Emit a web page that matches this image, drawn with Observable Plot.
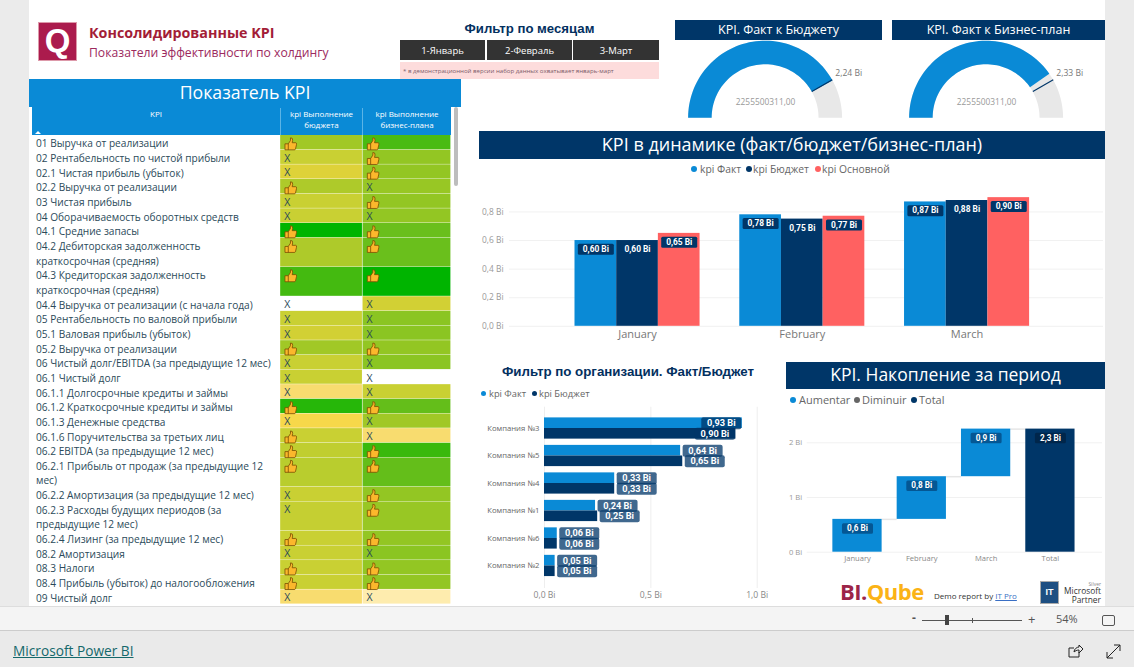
<!DOCTYPE html>
<html lang="ru"><head><meta charset="utf-8">
<script src="https://cdn.jsdelivr.net/npm/d3@7"></script>
<script src="https://cdn.jsdelivr.net/npm/@observablehq/plot@0.6"></script>
<style>
html,body{margin:0;padding:0;width:1134px;height:667px;overflow:hidden;background:#ebebeb;font-family:"Open Sans",sans-serif}
.abs{position:absolute}
.hdr{position:absolute;color:#fff;display:flex;align-items:center;justify-content:center;white-space:nowrap;box-sizing:border-box;padding-bottom:3px}
.navy{background:#003668}.blue{background:#0a8ad6}
.btn{position:absolute;top:40px;height:20px;background:#333;color:#fff;font-size:9.5px;display:flex;align-items:center;justify-content:center}
.leg{position:absolute;font-size:10.3px;color:#666;white-space:nowrap;line-height:14px}
.leg i{position:absolute;width:6px;height:6px;border-radius:50%;top:4px}
.plot{position:absolute}
.plot svg{display:block;max-width:none;overflow:visible}
</style></head><body>
<div class="abs" style="left:29px;top:0;width:1076px;height:606px;background:#fff"></div>
<div class="abs" style="left:0;top:606px;width:1134px;height:24px;background:#f4f4f4;border-top:1px solid #ddd;box-sizing:border-box"></div>
<div class="abs" style="left:0;top:630px;width:1134px;height:37px;background:#eaeaea;border-top:1px solid #ccc;box-sizing:border-box"></div>

<div class="abs" style="left:38px;top:22px;width:37px;height:37px;background:#ab1b4d;border:1px solid #d9a;color:#fff;font:bold 33px/36px 'Liberation Sans';text-align:center">Q</div>
<div class="abs" style="left:89px;top:24px;font:bold 14.3px/18px 'Open Sans';color:#a31d37;white-space:nowrap">Консолидированные KPI</div>
<div class="abs" style="left:89px;top:44px;font:12.2px/18px 'Open Sans';color:#9c2a5e;white-space:nowrap">Показатели эффективности по холдингу</div>

<div class="abs" style="left:400px;top:21px;width:259px;text-align:center;font:bold 13.2px/16px 'Liberation Sans';color:#03305f">Фильтр по месяцам</div>
<div class="btn" style="left:400px;width:85px">1-Январь</div>
<div class="btn" style="left:487px;width:85px">2-Февраль</div>
<div class="btn" style="left:573px;width:86px">3-Март</div>
<div class="abs" style="left:400px;top:62px;width:259px;height:17px;background:#fddcdc;color:#7a5a68;font:6.1px/18px 'Open Sans';white-space:nowrap;text-indent:3px">* в демонстрационной версии набор данных охватывает январь-март</div>

<div class="hdr blue" style="left:29px;top:79px;width:432px;height:28px;font-size:17.7px">Показатель KPI</div>
<div class="abs blue" style="left:32px;top:107px;width:419px;height:28px"></div>
<div class="abs" style="left:32px;top:108px;width:248px;text-align:center;color:#fff;font:8px/12px 'Open Sans'">KPI</div>
<div class="abs" style="left:280px;top:108px;width:82px;text-align:center;color:#fff;font:8px/11px 'Open Sans';border-left:1px solid #5bb4e6;box-sizing:border-box;height:27px">kpi Выполнение бюджета</div>
<div class="abs" style="left:362px;top:108px;width:89px;text-align:center;color:#fff;font:8px/11px 'Open Sans';border-left:1px solid #5bb4e6;box-sizing:border-box;height:27px">kpi Выполнение бизнес-плана</div>
<div class="abs" style="left:35px;top:131px;width:0;height:0;border-left:3px solid transparent;border-right:3px solid transparent;border-bottom:3px solid #fff"></div>
<div class="abs" style="left:454px;top:107px;width:4px;height:79px;background:#bdbdbd;border-radius:2px"></div>

<div class="hdr navy" style="left:675px;top:20px;width:207px;height:20px;font-size:12.5px;padding-bottom:2px">KPI. Факт к Бюджету</div>
<div class="hdr navy" style="left:892px;top:20px;width:213px;height:20px;font-size:12.5px;padding-bottom:2px">KPI. Факт к Бизнес-план</div>
<div class="hdr navy" style="left:479px;top:131px;width:626px;height:28px;font-size:18px">KPI в динамике (факт/бюджет/бизнес-план)</div>

<div class="leg" style="left:691px;top:162px"><i style="left:0;background:#0a8ad6"></i><span style="margin-left:9px">kpi Факт</span></div>
<div class="leg" style="left:746px;top:162px"><i style="left:0;background:#003668"></i><span style="margin-left:7px">kpi Бюджет</span></div>
<div class="leg" style="left:815px;top:162px"><i style="left:0;background:#ff6161"></i><span style="margin-left:7px">kpi Основной</span></div>

<div class="abs" style="left:480px;top:364px;width:296px;text-align:center;font:bold 13.3px/16px 'Liberation Sans';color:#03305f">Фильтр по организации. Факт/Бюджет</div>
<div class="leg" style="left:481px;top:387px;font-size:9.3px"><i style="left:0;background:#0a8ad6;width:5px;height:5px"></i><span style="margin-left:8px">kpi Факт</span></div>
<div class="leg" style="left:532px;top:387px;font-size:9.3px"><i style="left:0;background:#003668;width:5px;height:5px"></i><span style="margin-left:7px">kpi Бюджет</span></div>

<div class="hdr navy" style="left:786px;top:362px;width:319px;height:27px;font-size:17.5px">KPI. Накопление за период</div>
<div class="leg" style="left:790px;top:393px;font-size:11px"><i style="left:0;background:#0a8ad6"></i><span style="margin-left:9px">Aumentar</span></div>
<div class="leg" style="left:854px;top:393px;font-size:11px"><i style="left:0;background:#666"></i><span style="margin-left:8px">Diminuir</span></div>
<div class="leg" style="left:911px;top:393px;font-size:11px"><i style="left:0;background:#003668"></i><span style="margin-left:8px">Total</span></div>

<div class="abs" style="left:840px;top:577px;font:bold 22px/28px 'Open Sans';letter-spacing:-.5px;white-space:nowrap"><span style="color:#9c2548">BI.</span><span style="color:#fbb316">Qube</span></div>
<div class="abs" style="left:934px;top:590px;font:8px/12px 'Open Sans';color:#333;white-space:nowrap">Demo report by <span style="color:#3a6fc4;text-decoration:underline">IT Pro</span></div>
<div class="abs" style="left:1040px;top:581px;width:19px;height:23px;background:#1e4f82;border:1px solid #aaa;box-sizing:border-box;color:#fff;font:bold 9px/21px 'Liberation Sans';text-align:center">IT</div>
<div class="abs" style="left:1062px;top:581px;width:39px;text-align:right;font:5px/6px 'Open Sans';color:#888">Silver</div>
<div class="abs" style="left:1056px;top:586px;width:45px;text-align:right;font:8.4px/9px 'Open Sans';color:#333">Microsoft<br>Partner</div>

<div class="abs" style="left:912px;top:611px;font:bold 12px/14px 'Open Sans';color:#555">-</div>
<div class="abs" style="left:922px;top:620px;width:100px;height:1px;background:#555"></div>
<div class="abs" style="left:945px;top:615px;width:4px;height:10px;background:#444"></div>
<div class="abs" style="left:972px;top:618px;width:1px;height:5px;background:#555"></div>
<div class="abs" style="left:1028px;top:612px;font:13px/14px 'Open Sans';color:#555">+</div>
<div class="abs" style="left:1056px;top:612px;font:11px/14px 'Open Sans';color:#555">54%</div>
<div class="abs" style="left:1102px;top:615px;width:11px;height:9px;border:1px solid #555;border-radius:2px"></div>
<div class="abs" style="left:13px;top:641px;font:13.7px/20px 'Open Sans';color:#14686b;text-decoration:underline;white-space:nowrap">Microsoft Power BI</div>
<svg class="abs" style="left:1066px;top:642px" width="60" height="18" fill="none" stroke="#222" stroke-width="1">
<path d="M3 6h5M3 6v9h10v-5M8 10c0-3 3-5 5-5V3l4 4-4 4V8c-2 0-4 1-5 2z"/>
<path d="M41 16L54 3M48 3h6v6M41 10v6h6"/></svg>

<div id="table" class="plot" style="left:32px;top:135px"></div>
<div id="g1" class="plot" style="left:665.4px;top:32.6px"></div>
<div id="g2" class="plot" style="left:885.9px;top:32.6px"></div>
<div id="main" class="plot" style="left:470px;top:189.5px"></div>
<div id="hbar" class="plot" style="left:470px;top:406px"></div>
<div id="wf" class="plot" style="left:780px;top:420px"></div>

<script>
// ---------- data ----------
const kpiLabels = ["01 Выручка от реализации","02 Рентабельность по чистой прибыли","02.1 Чистая прибыль (убыток)","02.2 Выручка от реализации","03 Чистая прибыль","04 Оборачиваемость оборотных средств","04.1 Средние запасы","04.2 Дебиторская задолженность\nкраткосрочная (средняя)","04.3 Кредиторская задолженность\nкраткосрочная (средняя)","04.4 Выручка от реализации (с начала года)","05 Рентабельность по валовой прибыли","05.1 Валовая прибыль (убыток)","05.2 Выручка от реализации","06 Чистый долг/EBITDA (за предыдущие 12 мес)","06.1 Чистый долг","06.1.1 Долгосрочные кредиты и займы","06.1.2 Краткосрочные кредиты и займы","06.1.3 Денежные средства","06.1.6 Поручительства за третьих лиц","06.2 EBITDA (за предыдущие 12 мес)","06.2.1 Прибыль от продаж (за предыдущие 12\nмес)","06.2.2 Амортизация (за предыдущие 12 мес)","06.2.3 Расходы будущих периодов (за\nпредыдущие 12 мес)","06.2.4 Лизинг (за предыдущие 12 мес)","08.2 Амортизация","08.3 Налоги","08.4 Прибыль (убыток) до налогообложения","09 Чистый долг"];
const budgetScore = [.55,.38,.28,.5,.38,.38,1,.5,.82,null,.38,.33,.55,.38,.38,.12,.9,.2,.38,.42,.45,.38,.4,.38,.38,.38,.38,.12];
const planScore   = [.8,.6,.6,.58,.6,.6,.7,.7,1,.33,.62,.62,.6,.62,null,.38,.72,.55,.12,.85,.72,.6,.58,.6,.62,.6,.6,0];
const budgetOk = [1,0,0,1,0,0,1,1,1,0,0,0,1,0,0,0,1,0,1,1,1,0,0,1,0,1,1,0];
const planOk   = [1,1,1,0,1,0,1,1,1,0,0,0,1,0,0,0,1,0,0,1,1,1,1,1,0,1,1,0];

const months = ["January","February","March"];
const factByMonth = [.60,.78,.87];
const budgetByMonth = [.60,.75,.88];
const planByMonth = [.65,.77,.90];

const companies = ["Компания №3","Компания №5","Компания №4","Компания №1","Компания №6","Компания №2"];
const companyFact = [.93,.64,.33,.24,.06,.05];
const companyBudget = [.90,.65,.33,.25,.06,.05];

const wfCategories = ["January","February","March","Total"];
const wfValues = [.6,.78,.87];
const wfLabels = ["0,6 Bi","0,8 Bi","0,9 Bi","2,3 Bi"];

const gaugeFact = 2255500311;
const gaugeTargets = [2240000000, 2330000000];
const gaugeLabels = ["2,24 Bi","2,33 Bi"];
const gaugeCenterText = "2255500311,00";

// ---------- helpers ----------
const BLUE="#0a8ad6", NAVY="#003668", RED="#ff6161";
const font="'Open Sans',sans-serif";
const bi=(v,d)=>v.toFixed(d).replace(".",",")+" Bi";
function put(id,chart){document.getElementById(id).appendChild(chart);}
function pill(w,h,r=1.5){return {draw(c){const x=-w/2,y=-h/2;
  c.moveTo(x+r,y);c.lineTo(x+w-r,y);c.arcTo(x+w,y,x+w,y+r,r);c.lineTo(x+w,y+h-r);c.arcTo(x+w,y+h,x+w-r,y+h,r);
  c.lineTo(x+r,y+h);c.arcTo(x,y+h,x,y+h-r,r);c.lineTo(x,y+r);c.arcTo(x,y,x+r,y,r);c.closePath();}};}
const thumb={draw(c){
  c.moveTo(-5.5,0);c.lineTo(-2.2,0);c.lineTo(0,-3.3);c.lineTo(0,-6);c.quadraticCurveTo(2.4,-6.3,2.2,-3.5);c.lineTo(1.7,-1.1);
  c.lineTo(5.3,-1.1);c.quadraticCurveTo(6.4,-1.1,6,.9);c.lineTo(5,5.3);c.quadraticCurveTo(4.7,6,3.8,6);c.lineTo(-5.5,6);c.closePath();
  c.moveTo(-2.2,0);c.lineTo(-2.2,6);}};

// ---------- KPI table ----------
{
  let line=0;
  const rows=kpiLabels.map((label,i)=>{const n=label.split("\n").length;const r={label,top:line,bottom:line+n,b:budgetScore[i],p:planScore[i],bo:budgetOk[i],po:planOk[i]};line+=n;return r;});
  const cells=rows.flatMap(r=>[{col:0,score:r.b,ok:r.bo,top:r.top,bottom:r.bottom},{col:1,score:r.p,ok:r.po,top:r.top,bottom:r.bottom}]);
  const edges=[0,1,2.074];
  const scored=cells.filter(d=>d.score!=null);
  const Ytop=d=>d.top+.5;
  put("table",Plot.plot({
    width:419,height:469,margin:0,
    style:{background:"transparent",fontFamily:font,fontSize:"10.15px"},
    x:{domain:[-3.013,2.074],axis:null},
    y:{domain:[0,line],range:[0,469],axis:null},
    color:{type:"linear",domain:[0,.12,.2,.3,.38,.5,.6,.7,.82,1],
      range:["#feecae","#f8dc6f","#f7d84a","#d8d035","#c9d033","#aeca2a","#93c623","#6abf1c","#44ba10","#00b400"]},
    marks:[
      Plot.rect(scored,{x1:d=>edges[d.col],x2:d=>edges[d.col+1],y1:"top",y2:"bottom",fill:"score",insetBottom:.4,insetRight:.6}),
      Plot.text(rows,{x:-3.013,y:"top",text:"label",dx:3.5,dy:1.5,textAnchor:"start",lineAnchor:"top",lineHeight:1.44,fill:"#2b4a5a"}),
      Plot.text(cells.filter(d=>!d.ok),{x:d=>edges[d.col],y:Ytop,text:()=>"X",dx:6.5,dy:.8,textAnchor:"middle",fill:"#2b4a5a",fontSize:10.5}),
      Plot.dot(cells.filter(d=>d.ok),{x:d=>edges[d.col],y:Ytop,symbol:()=>thumb,dx:9.8,dy:1,fill:"#fbb72c",stroke:"#7a4e00",strokeWidth:.8})
    ]}));
}

// ---------- gauges ----------
function gauge(id,target,label){
  const max=target*1.2, inner=.694;
  const ang=v=>Math.PI*(1-v/max);
  const arc=(a,b)=>d3.range(61).map(k=>{const t=ang(a+(b-a)*k/60);return {t};});
  const ptx=(r)=>d=>r*Math.cos(d.t), pty=(r)=>d=>r*Math.sin(d.t);
  const ring=(a,b,fill)=>Plot.area(arc(a,b),{x1:ptx(1),y1:pty(1),x2:ptx(inner),y2:pty(inner),fill});
  const tt=[{t:ang(target)}];
  put(id,Plot.plot({
    width:200.2,height:84.7,margin:0,
    style:{background:"transparent",fontFamily:font,fontSize:"8.6px"},
    x:{domain:[-1.3,1.3],axis:null},y:{domain:[0,1.1],axis:null},
    marks:[
      ring(0,max,"#e8e8e8"),
      ring(0,gaugeFact,BLUE),
      Plot.link(tt,{x1:ptx(inner),y1:pty(inner),x2:ptx(1),y2:pty(1),stroke:NAVY,strokeWidth:1.2}),
      Plot.text(tt,{x:ptx(1),y:pty(1),text:()=>label,dx:3,dy:-6,textAnchor:"start",fill:"#777"}),
      Plot.text([0],{x:0,y:.21,text:()=>gaugeCenterText,fill:"#999",fontSize:8.4})
    ]}));
}
gauge("g1",gaugeTargets[0],gaugeLabels[0]);
gauge("g2",gaugeTargets[1],gaugeLabels[1]);

// ---------- main grouped bars ----------
{
  const rows=[factByMonth,budgetByMonth,planByMonth].flatMap((vals,s)=>vals.map((v,m)=>({m,s,v})));
  const half=.1265, off=d=>d.m+(d.s-1)*2*half;
  put("main",Plot.plot({
    width:640,height:155,marginTop:0,marginBottom:19.2,marginLeft:39,marginRight:7,
    style:{background:"transparent",fontFamily:font,fontSize:"8.4px"},
    x:{domain:[-.777,2.828],label:null},
    y:{domain:[0,.95],label:null},
    color:{domain:[0,1,2],range:[BLUE,NAVY,RED]},
    marks:[
      Plot.ruleY([0,.2,.4,.6,.8],{stroke:"#f1f1f1"}),
      Plot.axisY({ticks:[0,.2,.4,.6,.8],tickSize:0,tickPadding:6,tickFormat:v=>bi(v,1),color:"#999",fontSize:8.4,label:null}),
      Plot.axisX({ticks:[0,1,2],tickSize:0,tickPadding:4,tickFormat:i=>months[i],color:"#777",fontSize:11,label:null}),
      Plot.rect(rows,{x1:d=>off(d)-half,x2:d=>off(d)+half,y1:0,y2:"v",fill:d=>d.s}),
      Plot.dot(rows,{x:off,y:"v",symbol:()=>pill(36,11),dy:8.8,fill:NAVY}),
      Plot.text(rows,{x:off,y:"v",text:d=>bi(d.v,2),dy:8.8,fill:"#fff",fontWeight:700,fontFamily:"Roboto",fontSize:8.4})
    ]}));
}

// ---------- company bars ----------
{
  const rows=companies.flatMap((c,i)=>[{i,k:0,v:companyFact[i]},{i,k:1,v:companyBudget[i]}]);
  const bh=.386;
  const top=d=>d.i+(d.k?0:-bh), bot=d=>d.i+(d.k?bh:0), mid=d=>d.i+(d.k?bh/2:-bh/2);
  const inside=d=>d.v>.85;
  const outRows=rows.filter(d=>!inside(d)), inRows=rows.filter(inside);
  const pillOpts={x:"v",y:mid,symbol:()=>pill(40,12,2),fill:NAVY,fillOpacity:.75};
  const textOpts={x:"v",y:mid,text:d=>bi(d.v,2),fill:"#fff",fontWeight:700,fontFamily:"Roboto",fontSize:9.2};
  put("hbar",Plot.plot({
    width:305,height:200,marginTop:.7,marginBottom:18,marginLeft:74,marginRight:18.3,
    style:{background:"transparent",fontFamily:font,fontSize:"8px"},
    x:{domain:[0,1],label:null},
    y:{domain:[-.775,5.82],reverse:true,label:null},
    color:{domain:[0,1],range:[BLUE,NAVY]},
    marks:[
      Plot.ruleX([0,.5,1],{stroke:"#eeeeee"}),
      Plot.axisY({ticks:companies.map((_,i)=>i),tickSize:0,tickPadding:5,tickFormat:i=>companies[i],color:"#666",fontSize:7.7,label:null}),
      Plot.axisX({ticks:[0,.5,1],tickSize:0,tickPadding:3,tickFormat:v=>bi(v,1),color:"#888",fontSize:8.6,label:null}),
      Plot.rect(rows,{x1:0,x2:"v",y1:top,y2:bot,fill:d=>d.k}),
      Plot.dot(outRows,{...pillOpts,dx:22}),
      Plot.dot(inRows,{...pillOpts,dx:-21}),
      Plot.text(outRows,{...textOpts,dx:22}),
      Plot.text(inRows,{...textOpts,dx:-21})
    ]}));
}

// ---------- waterfall ----------
{
  let cum=0;
  const steps=wfValues.map((v,i)=>{const s={i,y1:cum,y2:cum+v,total:false,label:wfLabels[i]};cum+=v;return s;});
  const all=[...steps,{i:3,y1:0,y2:cum,total:true,label:wfLabels[3]}];
  const half=.383;
  put("wf",Plot.plot({
    width:325,height:150,marginTop:.4,marginBottom:18.3,marginLeft:26.7,marginRight:3,
    style:{background:"transparent",fontFamily:font,fontSize:"8px"},
    x:{domain:[-.782,3.81],label:null},
    y:{domain:[0,2.4],label:null},
    marks:[
      Plot.ruleY([0,1,2],{stroke:"#f1f1f1"}),
      Plot.axisY({ticks:[0,1,2],tickSize:0,tickPadding:5,tickFormat:v=>v+" Bi",color:"#999",fontSize:7.6,label:null}),
      Plot.axisX({ticks:[0,1,2,3],tickSize:0,tickPadding:3,tickFormat:i=>wfCategories[i],color:"#888",fontSize:7.6,label:null}),
      Plot.ruleY(all.slice(0,3),{y:"y2",x1:d=>d.i+half,x2:d=>d.i+1-half,stroke:"#e6e6e6",strokeWidth:1.5}),
      Plot.rect(all,{x1:d=>d.i-half,x2:d=>d.i+half,y1:"y1",y2:"y2",fill:d=>d.total?NAVY:BLUE}),
      Plot.dot(all,{x:"i",y:"y2",symbol:()=>pill(31,10.5),dy:9,fill:d=>d.total?"#001c38":"#003668",fillOpacity:.6}),
      Plot.text(all,{x:"i",y:"y2",text:"label",dy:9,fill:"#fff",fontWeight:700,fontFamily:"Roboto",fontSize:8.2})
    ]}));
}
</script>
</body></html>
